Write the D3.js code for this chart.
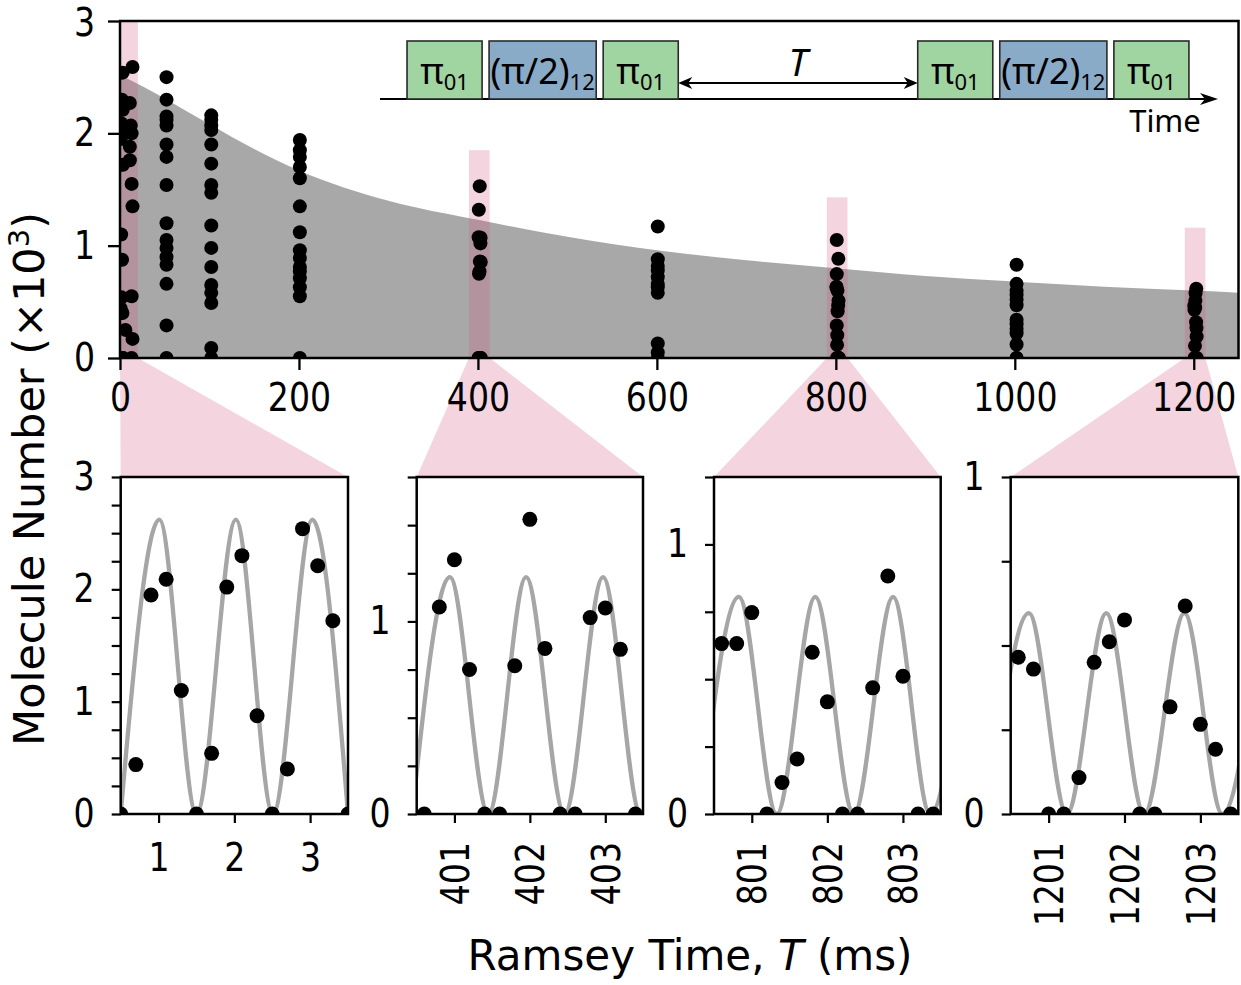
<!DOCTYPE html>
<html><head><meta charset="utf-8">
<script src="https://cdn.jsdelivr.net/npm/d3@7"></script>
<style>body{margin:0;background:#fff} svg{display:block} text{font-family:'DejaVu Sans',sans-serif}</style>
</head><body><svg id="c" width="1241" height="985"></svg>
<script>
// ---------------- DATA ----------------
const topXTicks = [0, 200, 400, 600, 800, 1000, 1200];
const topYTicks = [0, 1, 2, 3];

// envelope (gray fill) read along its upper edge
const decayT = [0, 25, 50, 100, 150, 200, 300, 400, 500, 600, 700, 800, 900, 1000, 1100, 1200, 1250];
const decayN = [2.52, 2.42, 2.31, 2.08, 1.86, 1.67, 1.40, 1.23, 1.08, 0.96, 0.87, 0.80, 0.73, 0.68, 0.635, 0.60, 0.58];

// zoomed panels: Ramsey time (ms) and molecule number (x10^3)
const p1T = [0.5, 0.7, 0.9, 1.1, 1.3, 1.5, 1.7, 1.9, 2.1, 2.3, 2.5, 2.7, 2.9, 3.1, 3.3, 3.5];
const p1N = [0, 0.44, 1.95, 2.09, 1.10, 0, 0.54, 2.02, 2.30, 0.875, 0, 0.40, 2.54, 2.21, 1.72, 0];
const p2T = [400.6, 400.8, 401.0, 401.2, 401.4, 401.6, 401.8, 402.0, 402.2, 402.4, 402.6, 402.8, 403.0, 403.2, 403.4];
const p2N = [0, 1.075, 1.32, 0.75, 0, 0, 0.77, 1.53, 0.86, 0, 0, 1.02, 1.07, 0.855, 0];
const p3T = [800.6, 800.8, 801.0, 801.2, 801.4, 801.6, 801.8, 802.0, 802.2, 802.4, 802.6, 802.8, 803.0, 803.2, 803.4];
const p3N = [0.632, 0.632, 0.747, 0, 0.117, 0.204, 0.60, 0.416, 0, 0, 0.468, 0.883, 0.511, 0, 0];
const p4T = [1200.6, 1200.8, 1201.0, 1201.2, 1201.4, 1201.6, 1201.8, 1202.0, 1202.2, 1202.4, 1202.6, 1202.8, 1203.0, 1203.2, 1203.4];
const p4N = [0.465, 0.43, 0, 0, 0.108, 0.45, 0.511, 0.576, 0, 0, 0.318, 0.617, 0.266, 0.192, 0];

// fitted fringes: extrema
const p1FitT = [0.5, 1.01, 1.5, 2.02, 2.51, 3.03, 3.5];
const p1FitN = [0, 2.62, 0, 2.62, 0, 2.62, 0];
const p2FitT = [400.44, 400.94, 401.45, 401.95, 402.46, 402.97, 403.47, 403.97];
const p2FitN = [0, 1.23, 0, 1.23, 0, 1.23, 0, 1.23];
const p3FitT = [800.32, 800.83, 801.33, 801.84, 802.35, 802.87, 803.36, 803.87];
const p3FitN = [0, 0.805, 0, 0.805, 0, 0.805, 0, 0.805];
const p4FitT = [1200.23, 1200.74, 1201.24, 1201.76, 1202.26, 1202.79, 1203.29, 1203.8];
const p4FitN = [0, 0.596, 0, 0.596, 0, 0.596, 0, 0.596];

// other scans shown only in the overview
const c12T = [14, 11, 12, 13, 11, 11, 13, 14, 13, 6, 14, 13];
const c12N = [2.59, 2.27, 2.07, 2.00, 1.88, 1.76, 1.55, 1.35, 0.55, 0.25, 0.17, 0];
const c50T = 52;
const c50N = [2.50, 2.30, 2.15, 2.12, 2.07, 1.90, 1.79, 1.54, 1.20, 1.05, 0.98, 0.90, 0.83, 0.66, 0.29, 0];
const c100T = 102;
const c100N = [2.16, 2.12, 2.07, 2.03, 1.90, 1.73, 1.54, 1.47, 1.18, 0.98, 0.81, 0.65, 0.58, 0.49, 0.09, 0];
const c200T = 201;
const c200N = [1.94, 1.85, 1.79, 1.70, 1.60, 1.35, 1.12, 0.96, 0.89, 0.81, 0.77, 0.71, 0.63, 0.55, 0];
const c600T = 601;
const c600N = [1.17, 0.88, 0.82, 0.78, 0.72, 0.66, 0.63, 0.58, 0.13, 0.05, 0];
const c800T = 801;
const c800N = [1.05, 0.29];
const c1000T = 1002;
const c1000N = [0.83, 0.66, 0.60, 0.56, 0.52, 0.47, 0.34, 0.30, 0.26, 0.22, 0.12, 0, 0];

// highlighted windows in the overview
const bandX0 = [0, 390, 790, 1190];
const bandX1 = [20, 413, 813, 1213];
const bandTop = [3, 1.85, 1.43, 1.16];

// zoom panel axes
const p1XTicks = [1, 2, 3], p2XTicks = [401, 402, 403], p3XTicks = [801, 802, 803], p4XTicks = [1201, 1202, 1203];
const p1YTicks = [0, 1, 2, 3], p2YTicks = [0, 1], p3YTicks = [0, 1], p4YTicks = [0, 1];
const pDomains = [[0.5, 3.5], [400.5, 403.5], [800.5, 803.5], [1200.5, 1203.5]];
const pYMax = [3, 1.75, 1.25, 1];
const minorStep = 0.25;

// pulse sequence (diagram units)
const pulseSeq = [
  {k: 'pad', w: 0.36}, {k: 'g', w: 1, lab: 'π', sub: '01'}, {k: 'gap', w: 0.093},
  {k: 'b', w: 1.427, lab: '(π/2)', sub: '12'}, {k: 'gap', w: 0.093}, {k: 'g', w: 1, lab: 'π', sub: '01'},
  {k: 'T', w: 3.19}, {k: 'g', w: 1, lab: 'π', sub: '01'}, {k: 'gap', w: 0.093},
  {k: 'b', w: 1.427, lab: '(π/2)', sub: '12'}, {k: 'gap', w: 0.093}, {k: 'g', w: 1, lab: 'π', sub: '01'},
  {k: 'pad', w: 0.387}
];

// ---------------- DRAWING ----------------
const svg = d3.select('#c');
const pink = 'rgba(214,88,130,0.26)';
const TICKSX = 0.85, TICKFS = 39;
const TP = {x0: 120, x1: 1238.5, y0: 358, y1: 21};
const xT = d3.scaleLinear([0, 1250], [TP.x0, TP.x1]);
const yT = d3.scaleLinear([0, 3], [TP.y0, TP.y1]);
const defs = svg.append('defs');
function clip(id, x0, y0, x1, y1) {
  defs.append('clipPath').attr('id', id).append('rect')
    .attr('x', x0).attr('y', y1).attr('width', x1 - x0).attr('height', y0 - y1);
  return `url(#${id})`;
}
const clipTop = clip('ct', TP.x0, TP.y0, TP.x1, TP.y1);

function styleTicks(g, orient, tickW) {
  g.select('.domain').remove();
  g.selectAll('.tick line').attr('stroke', '#000').attr('stroke-width', tickW);
  g.selectAll('.tick text').attr('fill', '#000').style('font-size', TICKFS + 'px')
    .style('font-family', 'DejaVu Sans');
  if (orient === 'left') {
    g.selectAll('.tick text').each(function() {
      const t = d3.select(this); const x = +t.attr('x');
      t.attr('x', x / TICKSX).attr('transform', `scale(${TICKSX},1)`);
    });
  } else {
    g.selectAll('.tick text').attr('transform', `scale(${TICKSX},1)`);
  }
}

// gray envelope
const envPts = decayT.map((t, i) => [t, decayN[i]]);
svg.append('path').datum(envPts).attr('clip-path', clipTop).attr('fill', '#a8a8a8')
  .attr('d', d3.area().x(d => xT(d[0])).y0(yT(0)).y1(d => yT(d[1])).curve(d3.curveMonotoneX));

// panel geometry
const PY = {y0: 814, y1: 477};
const pX = [[120.7, 348], [416.7, 643], [714, 940.7], [1010.7, 1238.3]];

// bands + connectors
bandX0.forEach((b, i) => {
  svg.append('rect').attr('clip-path', clipTop).attr('fill', pink)
    .attr('x', xT(b)).attr('width', xT(bandX1[i]) - xT(b))
    .attr('y', yT(bandTop[i])).attr('height', yT(0) - yT(bandTop[i]));
  svg.append('path').attr('fill', pink)
    .attr('d', d3.line()([[xT(b), yT(0)], [xT(bandX1[i]), yT(0)], [pX[i][1], PY.y1], [pX[i][0], PY.y1]]) + 'Z');
});

// overview points
const overview = [];
p1T.forEach((t, i) => overview.push([t, p1N[i]]));
p2T.forEach((t, i) => overview.push([t, p2N[i]]));
p3T.forEach((t, i) => overview.push([t, p3N[i]]));
p4T.forEach((t, i) => overview.push([t, p4N[i]]));
c12T.forEach((t, i) => overview.push([t, c12N[i]]));
c50N.forEach(v => overview.push([c50T, v]));
c100N.forEach(v => overview.push([c100T, v]));
c200N.forEach(v => overview.push([c200T, v]));
c600N.forEach(v => overview.push([c600T, v]));
c800N.forEach(v => overview.push([c800T, v]));
c1000N.forEach(v => overview.push([c1000T, v]));
svg.append('g').attr('clip-path', clipTop).selectAll('circle').data(overview).join('circle')
  .attr('cx', d => xT(d[0])).attr('cy', d => yT(d[1])).attr('r', 7).attr('fill', '#000');

// overview frame + axes
svg.append('rect').attr('x', TP.x0).attr('y', TP.y1).attr('width', TP.x1 - TP.x0).attr('height', TP.y0 - TP.y1)
  .attr('fill', 'none').attr('stroke', '#000').attr('stroke-width', 2.5);
svg.append('g').attr('transform', `translate(${TP.x0},0)`)
  .call(d3.axisLeft(yT).tickValues(topYTicks).tickSize(12).tickPadding(13).tickFormat(d3.format('d')))
  .call(g => styleTicks(g, 'left', 2.3))
  .call(g => g.selectAll('.tick text').filter(d => d === 3).attr('dy', '0.38em'));
svg.append('g').attr('transform', `translate(0,${TP.y0})`)
  .call(d3.axisBottom(xT).tickValues(topXTicks).tickSize(12).tickPadding(13).tickFormat(d3.format('d')))
  .call(g => styleTicks(g, 'bottom', 2.3));

// zoom panels
const panels = [
  {T: p1T, N: p1N, fT: p1FitT, fN: p1FitN, xt: p1XTicks, yt: p1YTicks, rot: false},
  {T: p2T, N: p2N, fT: p2FitT, fN: p2FitN, xt: p2XTicks, yt: p2YTicks, rot: true},
  {T: p3T, N: p3N, fT: p3FitT, fN: p3FitN, xt: p3XTicks, yt: p3YTicks, rot: true},
  {T: p4T, N: p4N, fT: p4FitT, fN: p4FitN, xt: p4XTicks, yt: p4YTicks, rot: true}
];
panels.forEach((p, i) => {
  const x = d3.scaleLinear(pDomains[i], pX[i]);
  const y = d3.scaleLinear([0, pYMax[i]], [PY.y0, PY.y1]);
  const cp = clip('cp' + i, pX[i][0], PY.y0, pX[i][1], PY.y1);
  const g = svg.append('g');
  g.append('rect').attr('x', pX[i][0]).attr('y', PY.y1).attr('width', pX[i][1] - pX[i][0])
    .attr('height', PY.y0 - PY.y1).attr('fill', '#fff');
  g.append('path').attr('clip-path', cp).datum(p.fT.map((t, j) => [t, p.fN[j]]))
    .attr('fill', 'none').attr('stroke', '#a6a6a6').attr('stroke-width', 4.3)
    .attr('d', d3.line().x(d => x(d[0])).y(d => y(d[1])).curve(d3.curveMonotoneX));
  g.append('g').attr('clip-path', cp).selectAll('circle').data(p.T.map((t, j) => [t, p.N[j]])).join('circle')
    .attr('cx', d => x(d[0])).attr('cy', d => y(d[1])).attr('r', 7.5).attr('fill', '#000');
  g.append('rect').attr('x', pX[i][0]).attr('y', PY.y1).attr('width', pX[i][1] - pX[i][0])
    .attr('height', PY.y0 - PY.y1).attr('fill', 'none').attr('stroke', '#000').attr('stroke-width', 2.5);
  const minor = d3.range(0, pYMax[i] + 1e-9, minorStep);
  g.append('g').attr('transform', `translate(${pX[i][0]},0)`)
    .call(d3.axisLeft(y).tickValues(minor).tickSize(9).tickPadding(17)
      .tickFormat(d => p.yt.includes(d) ? d3.format('d')(d) : ''))
    .call(a => styleTicks(a, 'left', 2.2));
  const ax = g.append('g').attr('transform', `translate(0,${PY.y0})`)
    .call(d3.axisBottom(x).tickValues(p.xt).tickSize(9).tickPadding(20).tickFormat(d3.format('d')))
    .call(a => styleTicks(a, 'bottom', 2.2));
  if (p.rot) {
    ax.selectAll('.tick text').attr('y', null).attr('dy', '0.36em')
      .attr('x', -28 / TICKSX).attr('text-anchor', 'end')
      .attr('transform', `rotate(-90) scale(${TICKSX},1)`);
  }
});

// axis titles
const yl = svg.append('text').attr('transform', 'translate(44,479) rotate(-90)')
  .attr('text-anchor', 'middle').style('font-size', '43px').attr('fill', '#000');
yl.append('tspan').text('Molecule Number (×10');
yl.append('tspan').text('3').style('font-size', '29px').attr('dy', -15);
yl.append('tspan').text(')').attr('dy', 15);

const xl = svg.append('text').attr('x', 690).attr('y', 970).attr('text-anchor', 'middle')
  .style('font-size', '42px').attr('fill', '#000');
xl.append('tspan').text('Ramsey Time, ');
xl.append('tspan').text('T').style('font-style', 'italic');
xl.append('tspan').text(' (ms)');

// pulse diagram
const total = d3.sum(pulseSeq, d => d.w);
const xs = d3.scaleLinear([0, total], [380, 1218]);
const DG = {top: 41, base: 99};
const dg = svg.append('g');
dg.append('line').attr('x1', xs(0)).attr('x2', xs(total) - 8).attr('y1', DG.base).attr('y2', DG.base)
  .attr('stroke', '#000').attr('stroke-width', 2);
dg.append('path').attr('d', d3.line()([[xs(total), DG.base], [xs(total) - 18, DG.base - 6], [xs(total) - 13, DG.base], [xs(total) - 18, DG.base + 6]]) + 'Z')
  .attr('fill', '#000');
let acc = 0;
pulseSeq.forEach(s => {
  const a = xs(acc), b = xs(acc + s.w);
  if (s.k === 'g' || s.k === 'b') {
    dg.append('rect').attr('x', a).attr('y', DG.top).attr('width', b - a).attr('height', DG.base - DG.top)
      .attr('fill', s.k === 'g' ? '#a0d4a0' : '#8aabc8').attr('stroke', '#2a2a2a').attr('stroke-width', 1.6);
    const t = dg.append('text').attr('x', (a + b) / 2).attr('y', 84).attr('text-anchor', 'middle')
      .style('font-family', 'Noto Sans').style('font-size', '36px').attr('fill', '#000');
    t.append('tspan').text(s.lab);
    t.append('tspan').text(s.sub).style('font-size', '22px').attr('dy', 6);
  } else if (s.k === 'T') {
    const yA = 83;
    dg.append('line').attr('x1', a + 4).attr('x2', b - 4).attr('y1', yA).attr('y2', yA)
      .attr('stroke', '#000').attr('stroke-width', 1.8);
    dg.append('path').attr('d', `M${a},${yA} l14,-6 l-4,6 l4,6 Z M${b},${yA} l-14,-6 l4,6 l-4,6 Z`).attr('fill', '#000');
    dg.append('text').attr('x', (a + b) / 2).attr('y', 76).attr('text-anchor', 'middle')
      .style('font-family', 'Noto Sans').style('font-size', '38px').style('font-style', 'italic').text('T');
  }
  acc += s.w;
});
dg.append('text').attr('x', 1165).attr('y', 132).attr('text-anchor', 'middle')
  .style('font-family', 'Noto Sans').style('font-size', '31px').text('Time');
</script></body></html>
